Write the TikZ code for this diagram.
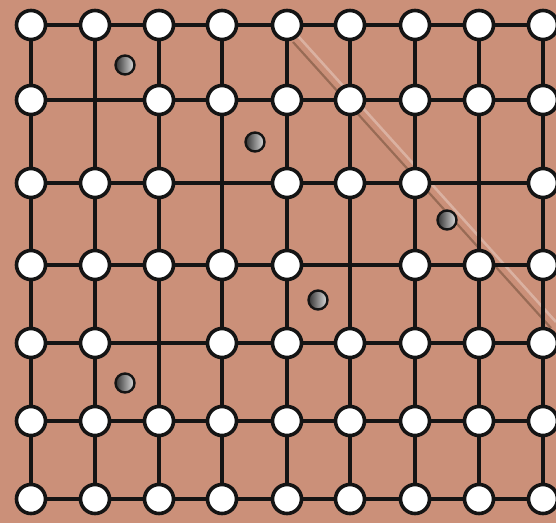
\documentclass[tikz,border=0pt]{standalone}
\usepackage{tikz}

\begin{document}
\begin{tikzpicture}[
    x=1pt, y=-1pt,
    site/.style={
      circle, draw=black!92, fill=white,
      line width=3.6pt, minimum size=29pt, inner sep=0pt
    },
    bond/.style={draw=black!92, line width=3.8pt},
    defect/.style={
      circle, draw=black!92, line width=2.4pt,
      minimum size=19pt, inner sep=0pt,
      left color=black!80, right color=black!12
    },
    scratchLight/.style={draw=white, line width=2.6pt, opacity=0.3},
    scratchDark/.style={draw=black!70!brown, line width=2.2pt, opacity=0.35}
  ]
    \definecolor{clayTone}{RGB}{203,144,121}

    \useasboundingbox (0,0) rectangle (556,523);
    \fill[clayTone] (0,0) rectangle (556,523);

    % faint scratch across the surface
    \draw[scratchLight] (298,36) -- (556,322);
    \draw[scratchDark] (293,42) -- (551,328);

    % lattice points
    \foreach \x [count=\c] in {31,95,159,222,287,350,415,479,543}
      \foreach \y [count=\r] in {25,100,183,265,343,421,499}
        \coordinate (p-\r-\c) at (\x,\y);

    \foreach \r in {1,...,7}
      \draw[bond] (p-\r-1) -- (p-\r-9);
    \foreach \c in {1,...,9}
      \draw[bond] (p-1-\c) -- (p-7-\c);

    % occupied sites (vacancies left out)
    \foreach \r/\cols in {1/{1,...,9}, 2/{1,3,4,5,6,7,8,9}, 3/{1,2,3,5,6,7,9},
                          4/{1,2,3,4,5,7,8,9}, 5/{1,2,4,5,6,7,8,9},
                          6/{1,...,9}, 7/{1,...,9}}
      \foreach \c in \cols
        \node[site] (n-\r-\c) at (p-\r-\c) {};

    % interstitial atoms
    \foreach \bx/\by [count=\i] in {125/65, 255/142, 447/220, 318/300, 125/383}
      \node[defect] (atom-\i) at (\bx,\by) {};
  \end{tikzpicture}
\end{document}
